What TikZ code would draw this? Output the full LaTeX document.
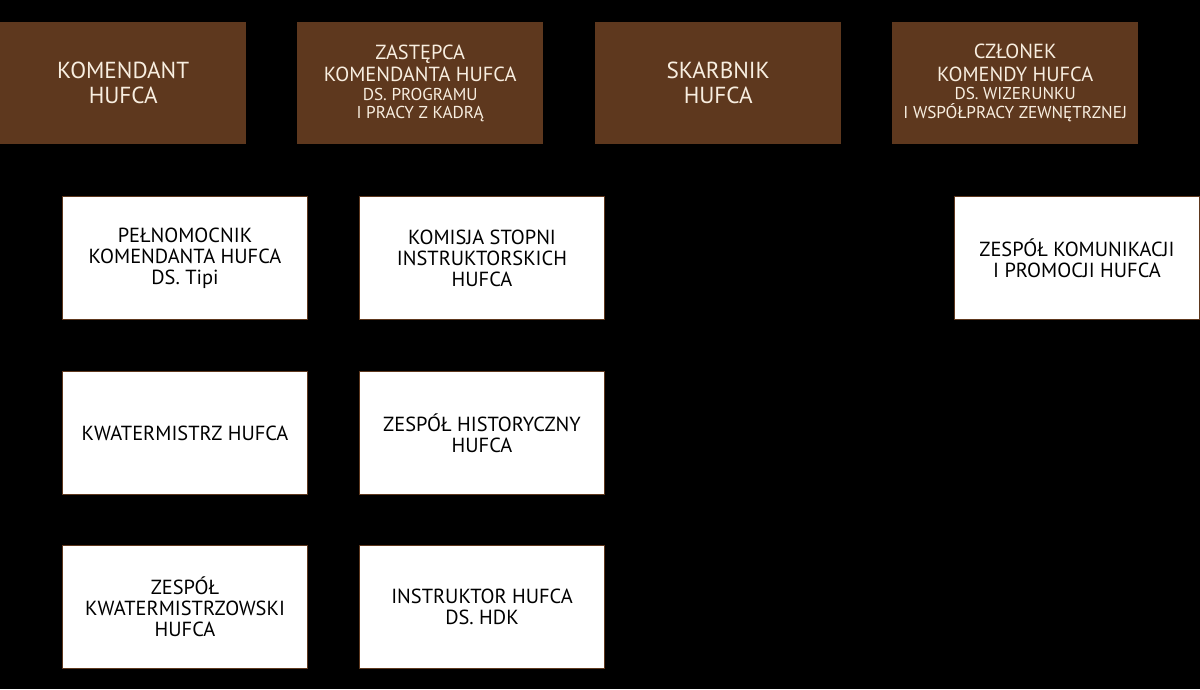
\documentclass[tikz,border=0pt]{standalone}
\usepackage{fontspec}
\setmainfont{PT Sans}
\definecolor{brn}{RGB}{94,56,30}
\definecolor{cream}{RGB}{248,238,224}
\newcommand{\smalltxt}{\fontsize{17.2}{19}\selectfont}
\begin{document}
\begin{tikzpicture}[x=1pt,y=-1pt,
  topbox/.style={fill=brn,draw=none,minimum width=246pt,minimum height=122pt,anchor=north west,inner sep=0pt,align=center,text=cream,font=\fontsize{23.2}{25}\selectfont},
  topboxlong/.style={topbox,font=\fontsize{20.4}{22}\selectfont},
  subbox/.style={fill=white,draw=brn,line width=1pt,minimum width=245pt,minimum height=123pt,anchor=north west,inner sep=0pt,align=center,text=black,font=\fontsize{20.4}{21}\selectfont}]
\fill[black] (0,0) rectangle (1200,689);
\useasboundingbox (0,0) rectangle (1200,689);
\node[topbox] (kom) at (0,22) {KOMENDANT\\HUFCA};
\node[topboxlong] (zast) at (297,22) {ZASTĘPCA\\KOMENDANTA HUFCA\\[-3pt]{\smalltxt DS. PROGRAMU}\\[-4pt]{\smalltxt I PRACY Z KADRĄ}};
\node[topbox] (skarb) at (595,22) {SKARBNIK\\HUFCA};
\node[topboxlong] (czl) at (892,22) {CZŁONEK\\[1pt]KOMENDY HUFCA\\[-4pt]{\smalltxt DS. WIZERUNKU}\\[-3pt]{\smalltxt I WSPÓŁPRACY ZEWNĘTRZNEJ}};
\node[subbox] (pel) at (62,196) {PEŁNOMOCNIK\\KOMENDANTA HUFCA\\DS. Tipi};
\node[subbox] (kwat) at (62,371) {KWATERMISTRZ HUFCA};
\node[subbox] (zkw) at (62,545) {ZESPÓŁ\\KWATERMISTRZOWSKI\\HUFCA};
\node[subbox] (ksi) at (359,196) {KOMISJA STOPNI\\INSTRUKTORSKICH\\HUFCA};
\node[subbox] (zh) at (359,371) {ZESPÓŁ HISTORYCZNY\\HUFCA};
\node[subbox] (hdk) at (359,545) {INSTRUKTOR HUFCA\\DS. HDK};
\node[subbox] (zkp) at (954,196) {ZESPÓŁ KOMUNIKACJI\\I PROMOCJI HUFCA};
\end{tikzpicture}
\end{document}
